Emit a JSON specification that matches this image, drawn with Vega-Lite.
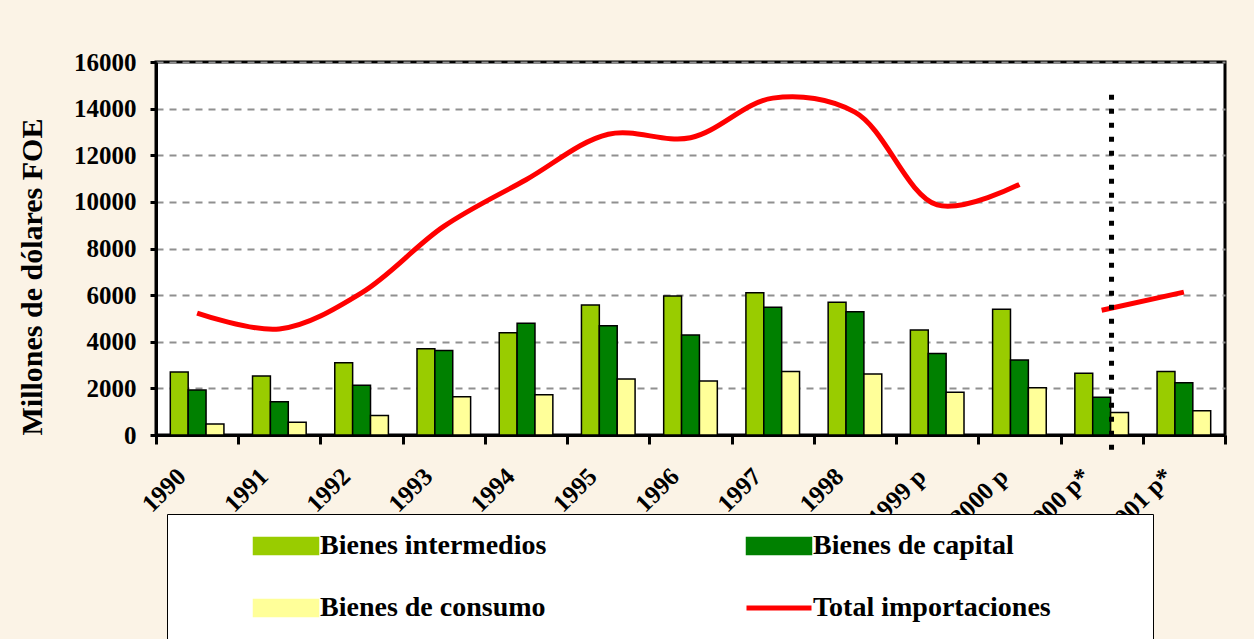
{
  "$schema": "https://vega.github.io/schema/vega-lite/v6.json",
  "width": 1069,
  "height": 373,
  "autosize": {"type": "none"},
  "padding": {"left": 156, "top": 62, "right": 29, "bottom": 204},
  "background": "#FBF3E6",
  "config": {
    "view": {"stroke": "black", "strokeWidth": 3, "fill": "white"},
    "font": "Liberation Serif"
  },
  "datasets": {
    "barras": [
      {"anio": "1990", "serie": "Bienes intermedios", "valor": 2700},
      {"anio": "1990", "serie": "Bienes de capital", "valor": 1930},
      {"anio": "1990", "serie": "Bienes de consumo", "valor": 470},
      {"anio": "1991", "serie": "Bienes intermedios", "valor": 2530},
      {"anio": "1991", "serie": "Bienes de capital", "valor": 1430},
      {"anio": "1991", "serie": "Bienes de consumo", "valor": 550},
      {"anio": "1992", "serie": "Bienes intermedios", "valor": 3100},
      {"anio": "1992", "serie": "Bienes de capital", "valor": 2130},
      {"anio": "1992", "serie": "Bienes de consumo", "valor": 840},
      {"anio": "1993", "serie": "Bienes intermedios", "valor": 3700},
      {"anio": "1993", "serie": "Bienes de capital", "valor": 3620},
      {"anio": "1993", "serie": "Bienes de consumo", "valor": 1640},
      {"anio": "1994", "serie": "Bienes intermedios", "valor": 4390},
      {"anio": "1994", "serie": "Bienes de capital", "valor": 4790},
      {"anio": "1994", "serie": "Bienes de consumo", "valor": 1730},
      {"anio": "1995", "serie": "Bienes intermedios", "valor": 5580},
      {"anio": "1995", "serie": "Bienes de capital", "valor": 4690},
      {"anio": "1995", "serie": "Bienes de consumo", "valor": 2400},
      {"anio": "1996", "serie": "Bienes intermedios", "valor": 5960},
      {"anio": "1996", "serie": "Bienes de capital", "valor": 4290},
      {"anio": "1996", "serie": "Bienes de consumo", "valor": 2320},
      {"anio": "1997", "serie": "Bienes intermedios", "valor": 6100},
      {"anio": "1997", "serie": "Bienes de capital", "valor": 5480},
      {"anio": "1997", "serie": "Bienes de consumo", "valor": 2720},
      {"anio": "1998", "serie": "Bienes intermedios", "valor": 5690},
      {"anio": "1998", "serie": "Bienes de capital", "valor": 5290},
      {"anio": "1998", "serie": "Bienes de consumo", "valor": 2620},
      {"anio": "1999 p", "serie": "Bienes intermedios", "valor": 4500},
      {"anio": "1999 p", "serie": "Bienes de capital", "valor": 3500},
      {"anio": "1999 p", "serie": "Bienes de consumo", "valor": 1830},
      {"anio": "2000 p", "serie": "Bienes intermedios", "valor": 5390},
      {"anio": "2000 p", "serie": "Bienes de capital", "valor": 3220},
      {"anio": "2000 p", "serie": "Bienes de consumo", "valor": 2030},
      {"anio": "2000 p*", "serie": "Bienes intermedios", "valor": 2650},
      {"anio": "2000 p*", "serie": "Bienes de capital", "valor": 1620},
      {"anio": "2000 p*", "serie": "Bienes de consumo", "valor": 960},
      {"anio": "2001 p*", "serie": "Bienes intermedios", "valor": 2720},
      {"anio": "2001 p*", "serie": "Bienes de capital", "valor": 2240},
      {"anio": "2001 p*", "serie": "Bienes de consumo", "valor": 1040}
    ],
    "total": [
      {"anio": "1990", "serie": "Total importaciones", "tramo": "A", "valor": 5230},
      {"anio": "1991", "serie": "Total importaciones", "tramo": "A", "valor": 4550},
      {"anio": "1992", "serie": "Total importaciones", "tramo": "A", "valor": 6100},
      {"anio": "1993", "serie": "Total importaciones", "tramo": "A", "valor": 8950},
      {"anio": "1994", "serie": "Total importaciones", "tramo": "A", "valor": 10950},
      {"anio": "1995", "serie": "Total importaciones", "tramo": "A", "valor": 12900},
      {"anio": "1996", "serie": "Total importaciones", "tramo": "A", "valor": 12750},
      {"anio": "1997", "serie": "Total importaciones", "tramo": "A", "valor": 14450},
      {"anio": "1998", "serie": "Total importaciones", "tramo": "A", "valor": 13850},
      {"anio": "1999 p", "serie": "Total importaciones", "tramo": "A", "valor": 9870},
      {"anio": "2000 p", "serie": "Total importaciones", "tramo": "A", "valor": 10750},
      {"anio": "2000 p*", "serie": "Total importaciones", "tramo": "B", "valor": 5350},
      {"anio": "2001 p*", "serie": "Total importaciones", "tramo": "B", "valor": 6130}
    ],
    "corte": [
      {"anio": "2000 p*", "desde": 14600, "hasta": -700}
    ]
  },
  "layer": [
    {
      "data": {"name": "barras"},
      "mark": {"type": "bar", "stroke": "black", "strokeWidth": 1.5},
      "encoding": {
        "x": {
          "field": "anio", "type": "nominal",
          "scale": {"domain": ["1990", "1991", "1992", "1993", "1994", "1995", "1996", "1997", "1998", "1999 p", "2000 p", "2000 p*", "2001 p*"], "paddingInner": 0, "paddingOuter": 0},
          "axis": {
            "title": null, "labelAngle": -45, "labelAlign": "right", "labelBaseline": "middle",
            "labelFont": "Liberation Serif", "labelFontSize": 25, "labelFontWeight": "bold", "labelColor": "black",
            "labelPadding": 28, "labelOffset": -16, "labelOverlap": false,
            "tickBand": "extent", "tickSize": 9, "tickWidth": 3, "tickColor": "black",
            "domainColor": "black", "domainWidth": 3, "grid": false
          }
        },
        "xOffset": {
          "field": "serie", "type": "nominal",
          "sort": ["Bienes intermedios", "Bienes de capital", "Bienes de consumo"],
          "scale": {"paddingInner": 0, "paddingOuter": 0.8}
        },
        "y": {
          "field": "valor", "type": "quantitative",
          "scale": {"domain": [0, 16000], "nice": false},
          "axis": {
            "values": [0, 2000, 4000, 6000, 8000, 10000, 12000, 14000, 16000],
            "format": "d",
            "title": "Millones de dólares FOE",
            "titleFont": "Liberation Serif", "titleFontSize": 30, "titleFontWeight": "bold", "titleColor": "black",
            "titleAnchor": "start", "titlePadding": 26,
            "labelFont": "Liberation Serif", "labelFontSize": 25, "labelFontWeight": "bold", "labelColor": "black",
            "labelPadding": 14, "tickSize": 6, "tickWidth": 3, "tickColor": "black",
            "domainColor": "black", "domainWidth": 3,
            "grid": true, "gridColor": "#909090", "gridDash": [7, 6], "gridWidth": 2
          }
        },
        "color": {
          "field": "serie", "type": "nominal",
          "scale": {
            "domain": ["Bienes intermedios", "Bienes de capital", "Bienes de consumo", "Total importaciones"],
            "range": ["#99CC00", "#008000", "#FFFF99", "#FF0000"]
          },
          "legend": {
            "title": null, "orient": "none", "legendX": 11, "legendY": 452, "columns": 2, "direction": "horizontal",
            "fillColor": "white", "strokeColor": "black", "padding": 18,
            "symbolOffset": 87, "labelOffset": 20, "columnPadding": 131, "rowPadding": 34,
            "symbolSize": 4225, "symbolStrokeWidth": 1.5, "symbolStrokeColor": "black",
            "labelFont": "Liberation Serif", "labelFontSize": 28, "labelFontWeight": "bold", "labelColor": "black", "labelLimit": 0,
            "labelExpr": "datum.label === 'Total importaciones' ? datum.label + '\u2800\u2800\u2800\u2800' : datum.label",
            "encode": {
              "symbols": {
                "update": {
                  "shape": {"signal": "datum.value === 'Total importaciones' ? 'stroke' : 'M-1,-0.26H1V0.26H-1Z'"},
                  "stroke": {"signal": "datum.value === 'Total importaciones' ? '#FF0000' : 'black'"},
                  "strokeWidth": {"signal": "datum.value === 'Total importaciones' ? 5 : 1.5"},
                  "fill": {"scale": "color", "field": "value"},
                  "opacity": {"value": 1}
                }
              }
            }
          }
        }
      }
    },
    {
      "data": {"name": "total"},
      "mark": {"type": "line", "interpolate": "catmull-rom", "strokeWidth": 5},
      "encoding": {
        "x": {"field": "anio", "type": "nominal"},
        "y": {"field": "valor", "type": "quantitative"},
        "color": {"field": "serie", "type": "nominal"},
        "detail": {"field": "tramo"}
      }
    },
    {
      "data": {"name": "corte"},
      "mark": {"type": "rule", "strokeWidth": 5, "strokeDash": [5, 9], "color": "black"},
      "encoding": {
        "x": {"field": "anio", "type": "nominal", "bandPosition": 0.62},
        "y": {"field": "desde", "type": "quantitative"},
        "y2": {"field": "hasta"}
      }
    }
  ]
}
